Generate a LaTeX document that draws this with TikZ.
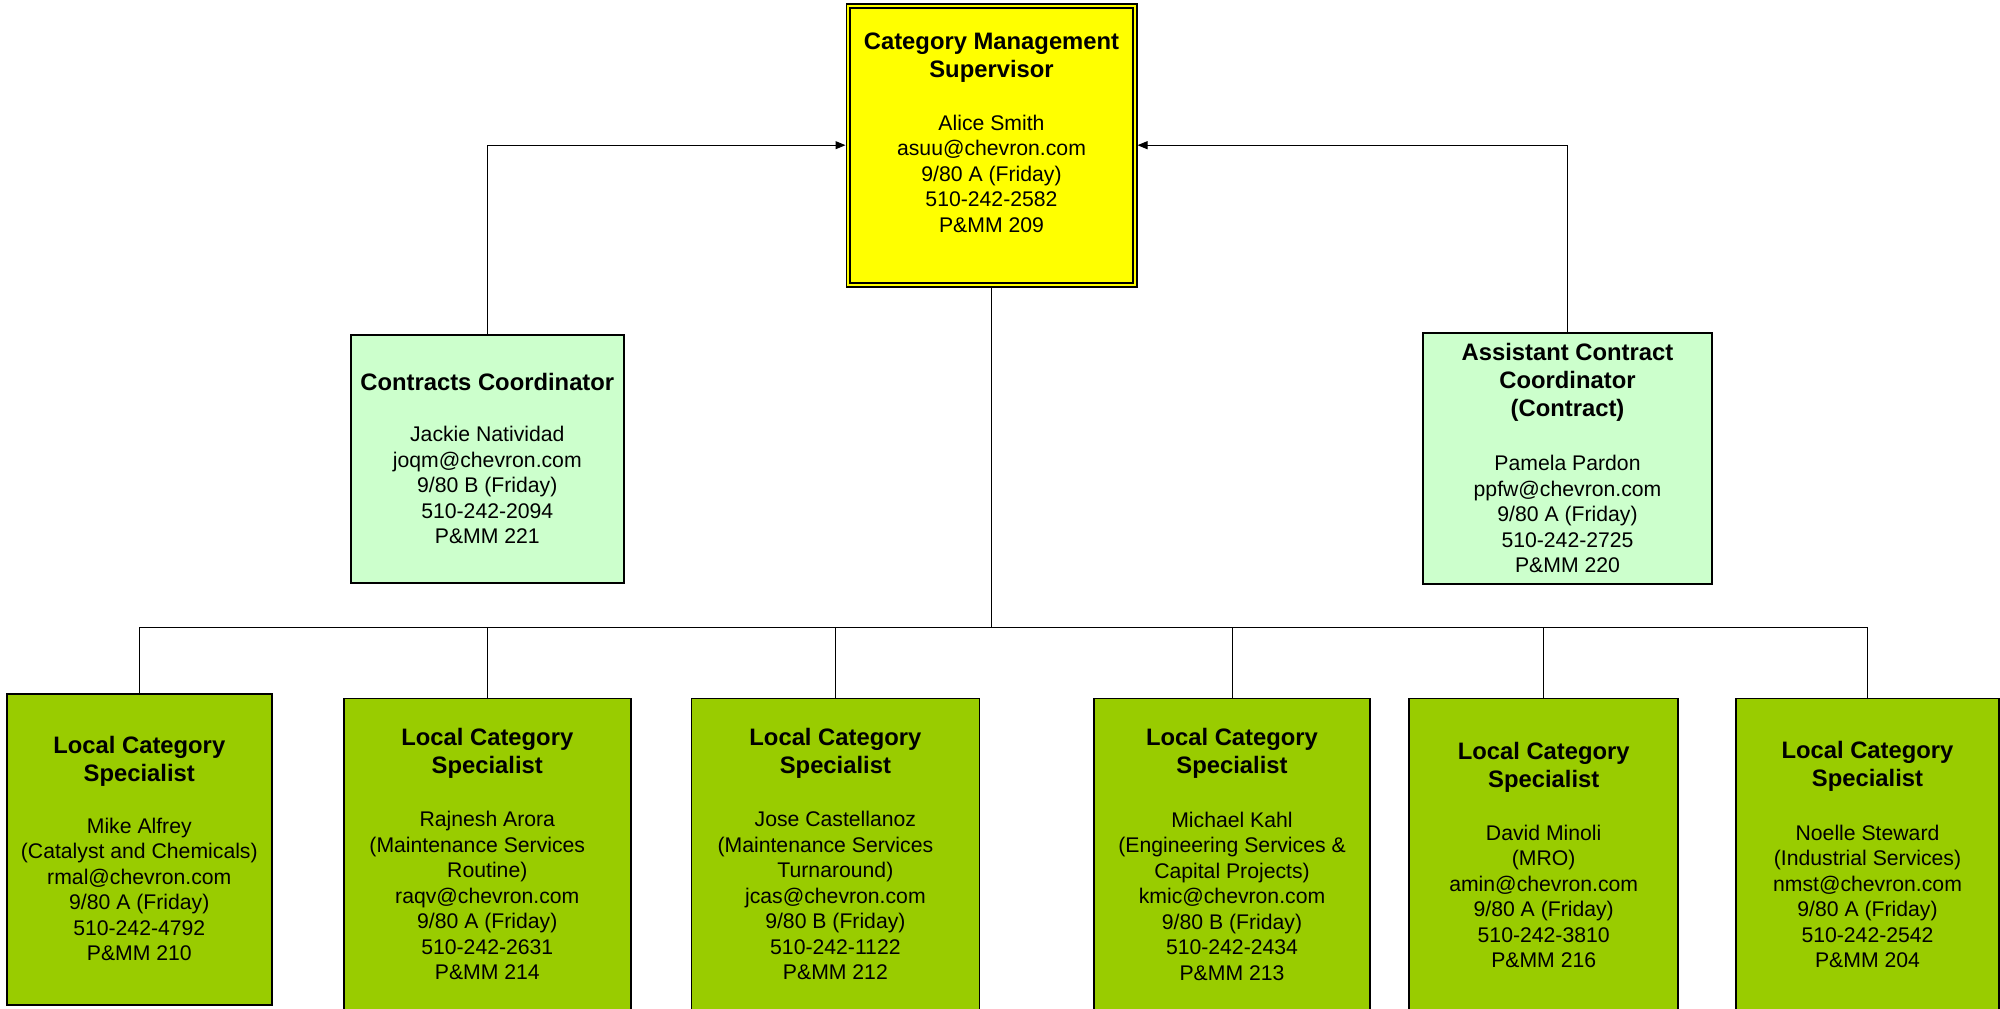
\documentclass[tikz,border=0pt]{standalone}
\usepackage{fontspec}
\setmainfont{Liberation Sans}
\usetikzlibrary{arrows.meta}
\definecolor{supyellow}{HTML}{FFFF00}
\definecolor{coordgreen}{HTML}{CCFFCC}
\definecolor{specgreen}{HTML}{99CC00}
\newcommand{\orgtitlefont}{\fontsize{23.8}{28}\selectfont\bfseries}
\newcommand{\orgbodyfont}{\fontsize{21.2}{25.5}\selectfont}
\newcommand{\orglines}[1]{\begin{tabular}[t]{@{}c@{}}#1\end{tabular}}
\begin{document}
\begin{tikzpicture}[x=1pt,y=-1pt,
  orgbox/.style={draw=black, line width=1.8pt, inner sep=0pt, outer sep=0pt},
  titletext/.style={anchor=base, inner sep=0pt, font=\orgtitlefont},
  bodytext/.style={anchor=base, inner sep=0pt, font=\orgbodyfont},
  link/.style={draw=black, line width=1pt},
  linkarrow/.style={link, -{Triangle[length=10pt,width=8pt]}}]
\useasboundingbox (0,0) rectangle (2000,1009);
\clip (0,0) rectangle (2000,1009);

% boxes
\node[orgbox, fill=supyellow, double=supyellow, double distance=2pt, outer sep=2.8pt,
      minimum width=286.4pt, minimum height=279pt] (sup) at (991.5,145.2) {};
\node[orgbox, fill=coordgreen, minimum width=272.7pt, minimum height=247.7pt] (cc) at (487.3,459.2) {};
\node[orgbox, fill=coordgreen, minimum width=289pt, minimum height=251pt] (acc) at (1567.5,458.8) {};
\node[orgbox, fill=specgreen, minimum width=264.7pt, minimum height=311.3pt] (s1) at (139.3,849.3) {};
\node[orgbox, fill=specgreen, minimum width=287.3pt, minimum height=316.5pt] (s2) at (487.3,856.75) {};
\node[orgbox, fill=specgreen, minimum width=288pt, minimum height=316.5pt] (s3) at (835.4,856.75) {};
\node[orgbox, fill=specgreen, minimum width=275.4pt, minimum height=316.5pt] (s4) at (1232,856.75) {};
\node[orgbox, fill=specgreen, minimum width=269.3pt, minimum height=316.5pt] (s5) at (1543.7,856.75) {};
\node[orgbox, fill=specgreen, minimum width=263.6pt, minimum height=316.5pt] (s6) at (1867.5,856.75) {};

% texts
\node[titletext] (supT) at (991.5,49) {\orglines{Category Management\\Supervisor}};
\node[bodytext] (supB) at (991.5,130) {\orglines{Alice Smith\\asuu@chevron.com\\9/80 A (Friday)\\510-242-2582\\P\&MM 209}};

\node[titletext] (ccT) at (487.3,390) {\orglines{Contracts Coordinator}};
\node[bodytext] (ccB) at (487.3,441.7) {\orglines{Jackie Natividad\\joqm@chevron.com\\9/80 B (Friday)\\510-242-2094\\P\&MM 221}};

\node[titletext] (accT) at (1567.5,360.7) {\orglines{Assistant Contract\\Coordinator\\(Contract)}};
\node[bodytext] (accB) at (1567.5,470.7) {\orglines{Pamela Pardon\\ppfw@chevron.com\\9/80 A (Friday)\\510-242-2725\\P\&MM 220}};

\node[titletext] (s1T) at (139.3,753) {\orglines{Local Category\\Specialist}};
\node[bodytext] (s1B) at (139.3,833) {\orglines{Mike Alfrey\\(Catalyst and Chemicals)\\rmal@chevron.com\\9/80 A (Friday)\\510-242-4792\\P\&MM 210}};

\node[titletext] (s2T) at (487.3,745.7) {\orglines{Local Category\\Specialist}};
\node[bodytext] (s2B) at (487.3,826.7) {\orglines{Rajnesh Arora\\(Maintenance Services\hspace*{20pt}\\Routine)\\raqv@chevron.com\\9/80 A (Friday)\\510-242-2631\\P\&MM 214}};

\node[titletext] (s3T) at (835.4,745.7) {\orglines{Local Category\\Specialist}};
\node[bodytext] (s3B) at (835.4,826.7) {\orglines{Jose Castellanoz\\(Maintenance Services\hspace*{20pt}\\Turnaround)\\jcas@chevron.com\\9/80 B (Friday)\\510-242-1122\\P\&MM 212}};

\node[titletext] (s4T) at (1232,745.7) {\orglines{Local Category\\Specialist}};
\node[bodytext] (s4B) at (1232,827) {\orglines{Michael Kahl\\(Engineering Services \&\\Capital Projects)\\kmic@chevron.com\\9/80 B (Friday)\\510-242-2434\\P\&MM 213}};

\node[titletext] (s5T) at (1543.7,759) {\orglines{Local Category\\Specialist}};
\node[bodytext] (s5B) at (1543.7,840) {\orglines{David Minoli\\(MRO)\\amin@chevron.com\\9/80 A (Friday)\\510-242-3810\\P\&MM 216}};

\node[titletext] (s6T) at (1867.5,758) {\orglines{Local Category\\Specialist}};
\node[bodytext] (s6B) at (1867.5,840) {\orglines{Noelle Steward\\(Industrial Services)\\nmst@chevron.com\\9/80 A (Friday)\\510-242-2542\\P\&MM 204}};

% connectors
\draw[linkarrow] (cc.north) |- (sup.west);
\draw[linkarrow] (acc.north) |- (sup.east);
\coordinate (bus) at (991.5,627.3);
\draw[link] (sup.south) -- (bus);
\draw[link] (s1.north) -- (s1.north |- bus) -- (s6.north |- bus) -- (s6.north);
\foreach \n in {s2,s3,s4,s5} \draw[link] (\n.north) -- (\n.north |- bus);
\end{tikzpicture}
\end{document}
